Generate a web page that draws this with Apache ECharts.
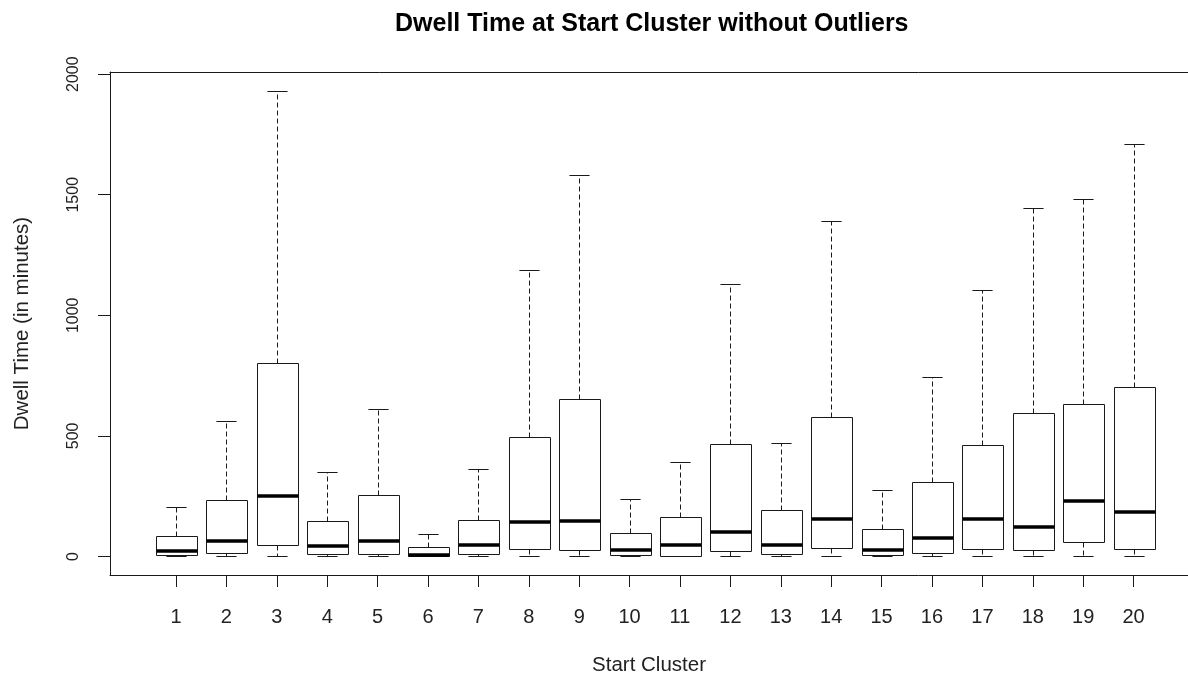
<!DOCTYPE html>
<html>
<head>
<meta charset="utf-8">
<title>Dwell Time at Start Cluster without Outliers</title>
<script src="https://cdn.jsdelivr.net/npm/echarts@6/dist/echarts.min.js"></script>
<style>
  html, body { margin: 0; padding: 0; background: #fff; }
  #chart { width: 1188px; height: 681px; }
</style>
</head>
<body>
<div id="chart"></div>
<script>
// Five-number summaries of dwell time (minutes) per start cluster
const clusters      = [1, 2, 3, 4, 5, 6, 7, 8, 9, 10, 11, 12, 13, 14, 15, 16, 17, 18, 19, 20];
const lowerWhisker  = [0, 0, 0, 0, 0, 0, 0, 0, 0, 0, 0, 0, 0, 0, 0, 0, 0, 0, 0, 0];
const lowerQuartile = [6, 16, 49, 10, 10, 1, 10, 31, 27, 6, 2, 21, 10, 36, 8, 16, 31, 25, 60, 31];
const medians       = [22, 65, 249, 43, 64, 6, 49, 141, 145, 26, 49, 102, 49, 156, 27, 75, 156, 124, 231, 183];
const upperQuartile = [86, 232, 803, 146, 254, 38, 151, 497, 651, 97, 164, 466, 194, 580, 114, 308, 464, 596, 634, 704];
const upperWhisker  = [205, 562, 1932, 352, 612, 91, 363, 1187, 1581, 238, 390, 1131, 471, 1392, 275, 743, 1105, 1445, 1484, 1710];
const yTicks        = [0, 500, 1000, 1500, 2000];

const FONT = '"Liberation Sans", Arial, Helvetica, sans-serif';
const INK = '#1a1a1a';
const TEXT = '#222';

// x range runs past the last box so the frame continues to the right edge
const X_MIN = -0.31;
const X_MAX = 21.08;

const boxData = clusters.map((c, i) => [
  c, lowerWhisker[i], lowerQuartile[i], medians[i], upperQuartile[i], upperWhisker[i]
]);

const crisp = v => Math.round(v) + 0.5;

function renderBox(params, api) {
  const x = api.value(0);
  const pLo = api.coord([x, api.value(1)]);
  const pQ1 = api.coord([x, api.value(2)]);
  const pMd = api.coord([x, api.value(3)]);
  const pQ3 = api.coord([x, api.value(4)]);
  const pHi = api.coord([x, api.value(5)]);
  const unit = api.size([1, 0])[0];
  const boxW = unit * 0.8;
  const capW = boxW * 0.5;
  const cx = crisp(pMd[0]);
  const thin = { stroke: INK, lineWidth: 1 };
  const dashed = { stroke: INK, lineWidth: 1, lineDash: [5, 3] };
  const left = crisp(cx - boxW / 2);
  const right = crisp(cx + boxW / 2);
  const yQ1 = crisp(pQ1[1]);
  const yQ3 = crisp(pQ3[1]);
  const yLo = crisp(pLo[1]);
  const yHi = crisp(pHi[1]);
  return {
    type: 'group',
    children: [
      { type: 'line', shape: { x1: cx, y1: yQ3, x2: cx, y2: yHi }, style: dashed },
      { type: 'line', shape: { x1: cx, y1: yQ1, x2: cx, y2: yLo }, style: dashed },
      { type: 'line', shape: { x1: cx - capW / 2, y1: yHi, x2: cx + capW / 2, y2: yHi }, style: thin },
      { type: 'line', shape: { x1: cx - capW / 2, y1: yLo, x2: cx + capW / 2, y2: yLo }, style: thin },
      { type: 'rect', shape: { x: left, y: yQ3, width: right - left, height: yQ1 - yQ3 },
        style: { fill: '#fff', stroke: INK, lineWidth: 1 } },
      { type: 'line', shape: { x1: left, y1: Math.round(pMd[1]), x2: right, y2: Math.round(pMd[1]) },
        style: { stroke: '#000', lineWidth: 3.5 } }
    ]
  };
}

const chart = echarts.init(document.getElementById('chart'), null, { renderer: 'canvas' });

chart.setOption({
  backgroundColor: '#fff',
  animation: false,
  title: {
    text: 'Dwell Time at Start Cluster without Outliers',
    left: 390,
    top: 7,
    textStyle: { fontFamily: FONT, fontWeight: 'bold', fontSize: 25, color: '#000' }
  },
  grid: {
    left: 110,
    top: 72,
    right: 0,
    height: 508,
    show: false,
    containLabel: false
  },
  xAxis: [{
    type: 'value',
    min: X_MIN,
    max: X_MAX,
    name: 'Start Cluster',
    nameLocation: 'middle',
    nameGap: 80,
    nameTextStyle: { fontFamily: FONT, fontSize: 20.5, color: TEXT },
    axisLine: { show: true, onZero: false, lineStyle: { color: INK, width: 1 } },
    axisTick: { show: true, inside: false, customValues: clusters, length: 12, lineStyle: { color: INK, width: 1 } },
    axisLabel: { customValues: clusters, margin: 32, fontFamily: FONT, fontSize: 20, color: TEXT },
    splitLine: { show: false }
  }, {
    // top edge of the plot frame
    type: 'value',
    position: 'top',
    min: X_MIN,
    max: X_MAX,
    axisLine: { show: true, onZero: false, lineStyle: { color: INK, width: 1 } },
    axisTick: { show: false },
    axisLabel: { show: false },
    splitLine: { show: false }
  }],
  yAxis: {
    type: 'value',
    min: -77,
    max: 2009,
    name: 'Dwell Time (in minutes)',
    nameLocation: 'middle',
    nameGap: 77,
    nameRotate: 90,
    nameTextStyle: { fontFamily: FONT, fontSize: 20.5, color: TEXT },
    axisLine: { show: true, onZero: false, lineStyle: { color: INK, width: 1 } },
    axisTick: { show: true, inside: false, customValues: yTicks, length: 12, lineStyle: { color: INK, width: 1 } },
    axisLabel: {
      customValues: yTicks, rotate: 90, margin: 28,
      fontFamily: FONT, fontSize: 16, color: TEXT,
      formatter: v => String(v)
    },
    splitLine: { show: false }
  },
  series: [{
    type: 'custom',
    xAxisIndex: 0,
    yAxisIndex: 0,
    renderItem: renderBox,
    encode: { x: 0, y: [1, 2, 3, 4, 5] },
    data: boxData,
    clip: false
  }]
});
</script>
</body>
</html>
